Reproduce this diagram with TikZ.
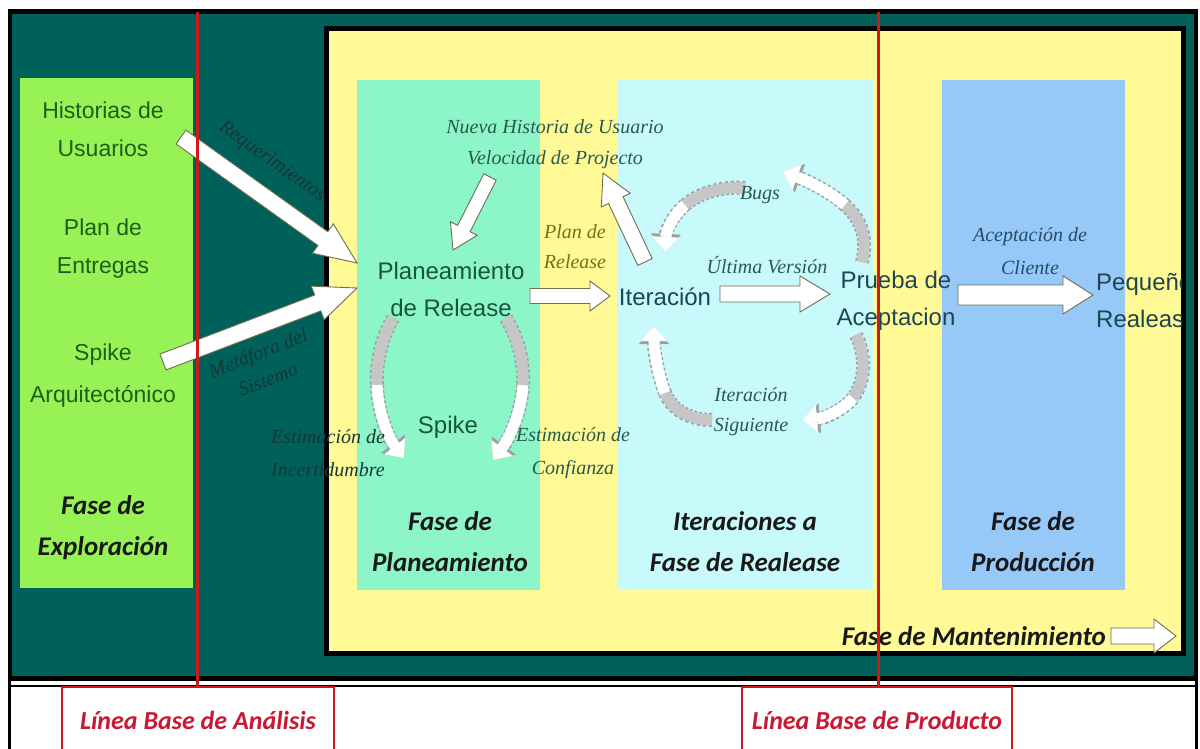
\documentclass[tikz,border=0pt]{standalone}
\usepackage{fontspec}
\setmainfont{Liberation Serif}
\newfontfamily\sansf{Liberation Sans}
\newfontfamily\calf{Carlito}
\usetikzlibrary{calc,arrows.meta}
\definecolor{tealbg}{RGB}{0,96,90}
\definecolor{yel}{RGB}{255,250,150}
\definecolor{lgreen}{RGB}{150,242,85}
\definecolor{mint}{RGB}{140,246,200}
\definecolor{lcyan}{RGB}{200,250,252}
\definecolor{lblue}{RGB}{150,200,248}
\definecolor{redl}{RGB}{205,25,25}
\definecolor{redt}{RGB}{200,25,50}
\definecolor{dgreen}{RGB}{30,95,25}
\definecolor{pgreen}{RGB}{25,85,60}
\definecolor{iteal}{RGB}{30,70,80}
\definecolor{ital}{RGB}{40,90,80}
\definecolor{itdark}{RGB}{20,55,55}
\definecolor{olivet}{RGB}{120,110,20}
\definecolor{itblue}{RGB}{40,75,105}
\definecolor{arrline}{RGB}{110,110,80}
\newcommand\barrow[5]{%
  \path ($(#2)!#5!(#1)$) coordinate (bah);
  \draw[blockarr] ($(#1)!#3!90:(#2)$) -- ($(bah)!#3!90:(#2)$) -- ($(bah)!#4!90:(#2)$) -- (#2)
    -- ($(bah)!#4!-90:(#2)$) -- ($(bah)!#3!-90:(#2)$) -- ($(#1)!#3!-90:(#2)$) -- cycle;}
\tikzset{
  blockarr/.style={fill=white, draw=arrline, line width=0.9pt, line join=miter},
  sanstxt/.style={font=\sansf\fontsize{23}{38}\selectfont, align=center, inner sep=0pt},
  sansbig/.style={font=\sansf\fontsize{24}{37}\selectfont, align=center, inner sep=0pt},
  itxt/.style={font=\itshape\fontsize{20}{31}\selectfont, align=center, inner sep=0pt},
  phase/.style={font=\calf\bfseries\itshape\fontsize{27}{41}\selectfont, align=center, inner sep=0pt, text=black!90},
  baselbl/.style={font=\calf\bfseries\itshape\fontsize{26}{30}\selectfont, text=redt, inner sep=0pt},
  cycout/.style={draw=gray!75, line width=14pt, dash pattern=on 3pt off 2.5pt},
  ctail/.style={draw=gray!45, line width=11pt, preaction={cycout}},
  chead/.style={draw=white, line width=11pt,
    preaction={cycout, -{Triangle[width=30pt,length=18pt,line width=0.4pt]}},
    -{Triangle[width=26pt,length=15pt,line width=0.4pt]}}
}
\begin{document}
\begin{tikzpicture}[x=1pt,y=-1pt]
\useasboundingbox (0,0) rectangle (1200,749);
\fill[white] (0,0) rectangle (1200,749);
% outer frame
\fill[black] (8,9) rectangle (1198,681);
\fill[tealbg] (12,14) rectangle (1194,676);
\draw[black, line width=3] (9.5,9) -- (9.5,749);
\draw[black, line width=3] (1196.5,9) -- (1196.5,749);
\draw[black, line width=2] (8,686) -- (1198,686);
% yellow panel
\fill[black] (324,26) rectangle (1186,656);
\fill[yel] (329,31) rectangle (1181,651);
% phase boxes
\fill[lgreen] (20,78) rectangle (193,588);
\fill[mint] (357,80) rectangle (540,590);
\fill[lcyan] (617,80) rectangle (873,590);
\fill[lblue] (942,80) rectangle (1125,590);

% curved cycle arrows
\draw[ctail] (393,318) .. controls (382,338) and (376,360) .. (377,385);
\draw[chead] (377,385) .. controls (378,415) and (390,440) .. (404,458);
\draw[ctail] (506,318) .. controls (518,338) and (524,360) .. (523,385);
\draw[chead] (523,385) .. controls (521,415) and (508,440) .. (493,460);
\draw[ctail] (862,262) .. controls (868,240) and (862,220) .. (845,205);
\draw[chead] (845,205) .. controls (828,190) and (805,180) .. (783,172);
\draw[ctail] (745,188) .. controls (725,186) and (700,192) .. (685,205);
\draw[chead] (685,205) .. controls (672,216) and (666,232) .. (665,252);
\draw[ctail] (856,335) .. controls (866,355) and (866,380) .. (853,398);
\draw[chead] (853,398) .. controls (843,410) and (825,418) .. (802,420);
\draw[ctail] (712,420) .. controls (690,420) and (672,410) .. (665,393);
\draw[chead] (665,393) .. controls (658,375) and (654,350) .. (654,326);

% text nodes
\node[sanstxt, text=dgreen] (hu) at (103,129) {Historias de\\Usuarios};
\node[sanstxt, text=dgreen] (pe) at (103,249) {Plan de\\Entregas};
\node[sanstxt, text=dgreen, font=\sansf\fontsize{23}{42}\selectfont] (sa) at (103,376) {Spike\\Arquitectónico};
\node[sansbig, text=pgreen] (pr) at (451,289) {Planeamiento\\de Release};
\node[sansbig, text=iteal] (it) at (665,297) {Iteración};
\node[sansbig, text=iteal] (pa) at (896,301) {Prueba de\\Aceptacion};
\node[sansbig, text=pgreen] (sp) at (448,427) {Spike};
\begin{scope}
\clip (329,31) rectangle (1181,651);
\node[sansbig, text=iteal, anchor=west, align=left] (pq) at (1096,301) {Pequeño\\Realease};
\end{scope}

\node[itxt, text=ital] (nh) at (555,144) {Nueva Historia de Usuario\\Velocidad de Projecto};
\node[itxt, text=olivet, font=\itshape\fontsize{20}{30}\selectfont] (plr) at (575,247) {Plan de\\Release};
\node[itxt, text=ital] (bg) at (760,195) {Bugs};
\node[itxt, text=ital] (uv) at (767,265) {Última Versión};
\node[itxt, text=ital, font=\itshape\fontsize{20}{30}\selectfont] (is) at (751,412) {Iteración\\Siguiente};
\node[itxt, text=itblue, font=\itshape\fontsize{20}{33}\selectfont] (ac) at (1030,251) {Aceptación de\\Cliente};
\node[itxt, text=itdark, font=\itshape\fontsize{20}{33}\selectfont] (ei) at (328,453) {Estimación de\\Incertidumbre};
\node[itxt, text=ital, font=\itshape\fontsize{20}{33}\selectfont] (ec) at (573,453) {Estimación de\\Confianza};
\node[itxt, text=itdark, rotate=-35.4] (rq) at (272,162) {Requerimientos};
\node[itxt, text=itdark, rotate=21, font=\itshape\fontsize{20}{28}\selectfont] (ms) at (263,366) {Metáfora del\\Sistema};

\node[phase] (fex) at (103,528) {Fase de\\Exploración};
\node[phase] (fpl) at (450,542) {Fase de\\Planeamiento};
\node[phase] (fit) at (745,542) {Iteraciones a\\Fase de Realease};
\node[phase] (fpr) at (1033,542) {Fase de\\Producción};
\node[phase, anchor=east] (fma) at (1106,636) {Fase de Mantenimiento};

% block arrows
\coordinate (a1s) at (181,137); \coordinate (a1e) at (357,263);
\coordinate (a2s) at (163,362); \coordinate (a2e) at (357,288);
\coordinate (a3s) at (490,177); \coordinate (a3e) at (453,250);
\coordinate (a4s) at (530,296); \coordinate (a4e) at (610,296);
\coordinate (a5s) at (645,262); \coordinate (a5e) at (603,173);
\coordinate (a6s) at (720,294); \coordinate (a6e) at (830,294);
\coordinate (a7s) at (958,295); \coordinate (a7e) at (1093,295);
\coordinate (a8s) at (1111,636); \coordinate (a8e) at (1176,636);
\barrow{a1s}{a1e}{8.5pt}{18pt}{42pt}
\barrow{a2s}{a2e}{8.5pt}{18pt}{42pt}
\barrow{a3s}{a3e}{7pt}{15pt}{24pt}
\barrow{a4s}{a4e}{7.5pt}{15pt}{20pt}
\barrow{a5s}{a5e}{8pt}{16pt}{30pt}
\barrow{a6s}{a6e}{8pt}{18pt}{30pt}
\barrow{a7s}{a7e}{10pt}{19pt}{30pt}
\barrow{a8s}{a8e}{8pt}{17pt}{22pt}

% red base lines
\draw[redl, line width=3] (197,12) -- (197,686);
\draw[redl, line width=3] (878,12) -- (878,686);
\draw[redl, line width=2.5, fill=white] (62,687) rectangle (334,760);
\draw[redl, line width=2.5, fill=white] (742,687) rectangle (1012,760);
\node[baselbl] (lba) at (198,720) {Línea Base de Análisis};
\node[baselbl] (lbp) at (877,720) {Línea Base de Producto};
\end{tikzpicture}
\end{document}
